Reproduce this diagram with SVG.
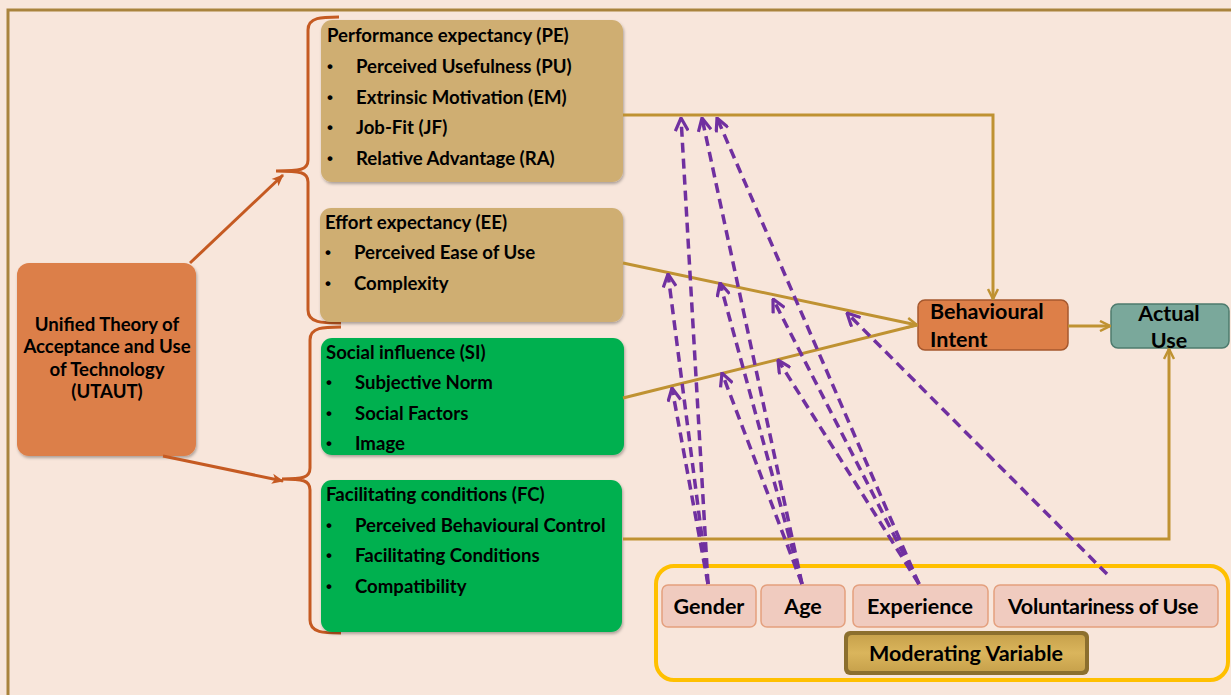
<svg xmlns="http://www.w3.org/2000/svg" width="1231" height="695" viewBox="0 0 1231 695">
  <defs>
    <style>
      .t{font-family:Lato,"Liberation Sans",sans-serif;font-weight:bold;fill:#000}
      .s17{font-size:18.6px}
      .s19{font-size:21.5px}
      .b{font-family:"Liberation Sans",sans-serif;font-size:17px;font-weight:bold;fill:#000}
      .c{text-anchor:middle}
      .gold{fill:none;stroke:#bf9232;stroke-width:3}
      .mod{fill:none;stroke:#7030a0;stroke-width:3.5;stroke-dasharray:10 6}
      .brace{fill:none;stroke:#c55a22;stroke-width:3}
      .tan{fill:#cfae72}
      .grn{fill:#00b050}
      .chip{fill:#f0cbbf;stroke:#e4a07e;stroke-width:1.5}
    </style>
    <filter id="sh" x="-10%" y="-10%" width="130%" height="130%">
      <feDropShadow dx="1" dy="2" stdDeviation="1.5" flood-color="#000" flood-opacity="0.3"/>
    </filter>
    <linearGradient id="modFill" x1="0" y1="0" x2="0" y2="1">
      <stop offset="0" stop-color="#c8a24c"/>
      <stop offset="0.5" stop-color="#dab55c"/>
      <stop offset="1" stop-color="#c8a24c"/>
    </linearGradient>
    <marker id="aGold" viewBox="0 0 12 12" refX="11" refY="6" markerWidth="12" markerHeight="12" markerUnits="userSpaceOnUse" orient="auto">
      <path d="M1,1 L11,6 L1,11" fill="none" stroke="#bf9232" stroke-width="2.5" stroke-dasharray="none"/>
    </marker>
    <marker id="aPur" viewBox="0 0 14 14" refX="13" refY="7" markerWidth="15" markerHeight="15" markerUnits="userSpaceOnUse" orient="auto">
      <path d="M1,1 L13,7 L1,13" fill="none" stroke="#7030a0" stroke-width="3" stroke-dasharray="none"/>
    </marker>
    <marker id="aRust" viewBox="0 0 12 12" refX="11" refY="6" markerWidth="12" markerHeight="12" markerUnits="userSpaceOnUse" orient="auto">
      <path d="M0,1 L12,6 L0,11 L3,6 Z" fill="#c55a22"/>
    </marker>
  </defs>

  <!-- page -->
  <rect x="0" y="0" width="1231" height="695" fill="#f8e6db"/>
  <path d="M8,695 L8,10 L1231,10" fill="none" stroke="#a9833d" stroke-width="3"/>

  <!-- root concept -->
  <g id="utaut">
    <rect x="17" y="263" width="179" height="193" rx="12" fill="#dc7f48" filter="url(#sh)"/>
    <text class="t s17 c" x="107" y="331">Unified Theory of</text>
    <text class="t s17 c" x="107" y="353">Acceptance and Use</text>
    <text class="t s17 c" x="107" y="376">of Technology</text>
    <text class="t s17 c" x="107" y="398">(UTAUT)</text>
  </g>

  <!-- braces -->
  <g id="braces">
    <path class="brace" d="M339,17 C322,17 308,17 308,30 L308,160 C308,170 300,171 276,171 C300,171 308,172 308,182 L308,310 C308,323 322,323 341,323"/>
    <path class="brace" d="M341,327 C324,327 310,327 310,340 L310,468 C310,478 302,479 282,479 C302,479 310,480 310,490 L310,620 C310,633 324,633 341,633"/>
  </g>

  <g id="pe">
    <rect class="tan" x="321" y="20" width="302" height="162" rx="11" filter="url(#sh)"/>
    <text class="t s17" x="327" y="42">Performance expectancy (PE)</text>
    <text class="b" x="327" y="72">•</text><text class="t s17" x="356" y="73">Perceived Usefulness (PU)</text>
    <text class="b" x="327" y="103">•</text><text class="t s17" x="356" y="104">Extrinsic Motivation (EM)</text>
    <text class="b" x="327" y="133">•</text><text class="t s17" x="356" y="134">Job-Fit (JF)</text>
    <text class="b" x="327" y="164">•</text><text class="t s17" x="356" y="165">Relative Advantage (RA)</text>
  </g>

  <g id="ee">
    <rect class="tan" x="320" y="208" width="303" height="114" rx="11" filter="url(#sh)"/>
    <text class="t s17" x="325" y="229">Effort expectancy (EE)</text>
    <text class="b" x="325" y="258">•</text><text class="t s17" x="354" y="259">Perceived Ease of Use</text>
    <text class="b" x="325" y="289">•</text><text class="t s17" x="354" y="290">Complexity</text>
  </g>

  <g id="si">
    <rect class="grn" x="321" y="338" width="303" height="117" rx="11" filter="url(#sh)"/>
    <text class="t s17" x="326" y="359">Social influence (SI)</text>
    <text class="b" x="326" y="388">•</text><text class="t s17" x="355" y="389">Subjective Norm</text>
    <text class="b" x="326" y="419">•</text><text class="t s17" x="355" y="420">Social Factors</text>
    <text class="b" x="326" y="449">•</text><text class="t s17" x="355" y="450">Image</text>
  </g>

  <g id="fc">
    <rect class="grn" x="321" y="480" width="301" height="152" rx="11" filter="url(#sh)"/>
    <text class="t s17" x="326" y="501">Facilitating conditions (FC)</text>
    <text class="b" x="326" y="531">•</text><text class="t s17" x="355" y="532">Perceived Behavioural Control</text>
    <text class="b" x="326" y="561">•</text><text class="t s17" x="355" y="562">Facilitating Conditions</text>
    <text class="b" x="326" y="592">•</text><text class="t s17" x="355" y="593">Compatibility</text>
  </g>

  <g id="behavioural-intent">
    <rect x="918" y="300" width="150" height="50" rx="7" fill="#dd7f48" stroke="#a5582e" stroke-width="1.5"/>
    <text class="t s19" x="930" y="319">Behavioural</text>
    <text class="t s19" x="930" y="347">Intent</text>
  </g>

  <g id="actual-use">
    <rect x="1111" y="304" width="118" height="44" rx="7" fill="#7aa89b" stroke="#4e7b6e" stroke-width="1.5"/>
    <text class="t s19 c" x="1169" y="321">Actual</text>
    <text class="t s19 c" x="1169" y="348">Use</text>
  </g>

  <g id="moderators">
    <rect x="656" y="566" width="572" height="114" rx="18" fill="none" stroke="#ffc000" stroke-width="4"/>
    <g id="gender">
      <rect class="chip" x="662" y="585" width="94" height="42" rx="6"/>
      <text class="t s19 c" x="709" y="614">Gender</text>
    </g>
    <g id="age">
      <rect class="chip" x="761" y="585" width="84" height="42" rx="6"/>
      <text class="t s19 c" x="803" y="614">Age</text>
    </g>
    <g id="experience">
      <rect class="chip" x="853" y="585" width="135" height="42" rx="6"/>
      <text class="t s19 c" x="920" y="614">Experience</text>
    </g>
    <g id="voluntariness">
      <rect class="chip" x="994" y="585" width="224" height="42" rx="6"/>
      <text class="t s19 c" x="1103" y="614" letter-spacing="-0.3">Voluntariness of Use</text>
    </g>
    <g id="moderating-variable">
      <rect x="844" y="631" width="245" height="44" rx="6" fill="#8c6f2e"/>
      <rect x="848" y="635" width="237" height="36" rx="4" fill="url(#modFill)"/>
      <text class="t s19 c" x="966" y="661">Moderating Variable</text>
    </g>
  </g>

  <!-- connectors -->
  <g id="connectors">
    <line x1="190" y1="263" x2="283" y2="175" stroke="#c55a22" stroke-width="3" marker-end="url(#aRust)"/>
    <line x1="163" y1="456" x2="283" y2="481" stroke="#c55a22" stroke-width="3" marker-end="url(#aRust)"/>

    <polyline class="gold" points="623,115 993,115 993,299" marker-end="url(#aGold)"/>
    <line class="gold" x1="623" y1="263" x2="917" y2="325" marker-end="url(#aGold)"/>
    <line class="gold" x1="623" y1="398" x2="917" y2="325"/>
    <line class="gold" x1="1068" y1="326" x2="1110" y2="326" marker-end="url(#aGold)"/>
    <polyline class="gold" points="623,539 1169,539 1169,349" marker-end="url(#aGold)"/>

    <!-- moderating effects -->
    <line class="mod" x1="708" y1="584" x2="681" y2="118" marker-end="url(#aPur)"/>
    <line class="mod" x1="708" y1="584" x2="668" y2="274" marker-end="url(#aPur)"/>
    <line class="mod" x1="708" y1="584" x2="672" y2="388" marker-end="url(#aPur)"/>
    <line class="mod" x1="802" y1="584" x2="702" y2="118" marker-end="url(#aPur)"/>
    <line class="mod" x1="802" y1="584" x2="720" y2="283" marker-end="url(#aPur)"/>
    <line class="mod" x1="802" y1="584" x2="722" y2="373" marker-end="url(#aPur)"/>
    <line class="mod" x1="919" y1="584" x2="717" y2="118" marker-end="url(#aPur)"/>
    <line class="mod" x1="919" y1="584" x2="773" y2="299" marker-end="url(#aPur)"/>
    <line class="mod" x1="919" y1="584" x2="778" y2="360" marker-end="url(#aPur)"/>
    <line class="mod" x1="1107" y1="574" x2="847" y2="313" marker-end="url(#aPur)"/>
  </g>
</svg>
